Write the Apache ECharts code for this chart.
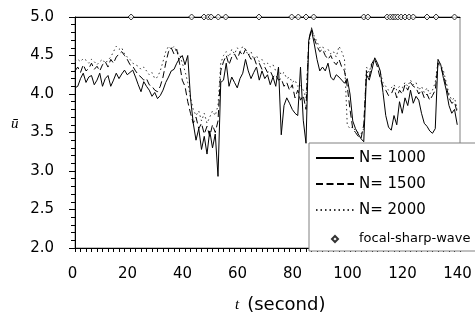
<!DOCTYPE html>
<html>
<head>
<meta charset="utf-8">
<script src="https://cdn.jsdelivr.net/npm/echarts@6/dist/echarts.min.js"></script>
<style>
  html, body { margin: 0; padding: 0; background: #fff; }
  #chart { width: 475px; height: 322px; }
</style>
</head>
<body>
<div id="chart"></div>
<script>
// time stamps (second)
const times = [
  0, 1, 2, 3, 4, 5, 6, 7, 8, 9, 10, 11, 12, 13, 14, 15, 16, 17, 18, 19,
  20, 21, 22, 23, 24, 25, 26, 27, 28, 29, 30, 31, 32, 33, 34, 35, 36, 37, 38, 39,
  40, 41, 42, 43, 44, 45, 46, 47, 48, 49, 50, 51, 52, 53, 54, 55, 56, 57, 58, 59,
  60, 61, 62, 63, 64, 65, 66, 67, 68, 69, 70, 71, 72, 73, 74, 75, 76, 77, 78, 79,
  80, 81, 82, 83, 84, 85, 86, 87, 88, 89, 90, 91, 92, 93, 94, 95, 96, 97, 98, 99,
  100, 101, 102, 103, 104, 105, 106, 107, 108, 109, 110, 111, 112, 113, 114, 115, 116, 117, 118, 119,
  120, 121, 122, 123, 124, 125, 126, 127, 128, 129, 130, 131, 132, 133, 134, 135, 136, 137, 138, 139
]

const n1000 = [
  4.08, 4.10, 4.20, 4.27, 4.15, 4.22, 4.24, 4.12, 4.18, 4.27,
  4.10, 4.20, 4.24, 4.10, 4.18, 4.27, 4.20, 4.26, 4.31, 4.25,
  4.28, 4.31, 4.22, 4.12, 4.03, 4.16, 4.10, 4.05, 3.97, 4.02,
  3.94, 3.98, 4.05, 4.15, 4.22, 4.30, 4.32, 4.40, 4.46, 4.50,
  4.38, 4.50, 3.95, 3.62, 3.40, 3.55, 3.28, 3.45, 3.22, 3.52,
  3.30, 3.48, 2.93, 4.15, 4.18, 4.40, 4.10, 4.22, 4.15, 4.08,
  4.20, 4.27, 4.45, 4.30, 4.20, 4.28, 4.35, 4.18, 4.30, 4.20,
  4.25, 4.12, 4.22, 4.10, 4.35, 3.47, 3.85, 3.95, 3.88, 3.80,
  3.75, 3.72, 4.35, 3.66, 3.36, 4.70, 4.83, 4.65, 4.45, 4.30,
  4.35, 4.30, 4.40, 4.22, 4.18, 4.25, 4.22, 4.18, 4.14, 4.20,
  4.00, 3.65, 3.55, 3.48, 3.42, 3.38, 4.25, 4.18, 4.32, 4.47,
  4.40, 4.30, 4.02, 3.72, 3.57, 3.53, 3.72, 3.60, 3.90, 3.75,
  3.95, 3.85, 4.05, 3.88, 3.97, 3.92, 3.75, 3.62, 3.58, 3.52,
  3.49, 3.55, 4.45, 4.38, 4.20, 4.05, 3.85, 3.75, 3.80, 3.60
]

const n1500 = [
  4.30, 4.35, 4.28, 4.38, 4.30, 4.33, 4.40, 4.32, 4.36, 4.30,
  4.38, 4.42, 4.35, 4.45, 4.40, 4.48, 4.52, 4.55, 4.50, 4.45,
  4.38, 4.36, 4.30, 4.25, 4.22, 4.18, 4.20, 4.12, 4.10, 4.05,
  4.03, 4.10, 4.22, 4.40, 4.55, 4.60, 4.52, 4.58, 4.40, 4.18,
  4.10, 3.90, 3.75, 3.62, 3.70, 3.55, 3.62, 3.48, 3.58, 3.45,
  3.60, 3.50, 3.65, 4.30, 4.42, 4.50, 4.38, 4.48, 4.52, 4.45,
  4.55, 4.50, 4.58, 4.52, 4.45, 4.48, 4.38, 4.40, 4.32, 4.35,
  4.28, 4.30, 4.22, 4.25, 4.18, 4.20, 4.10, 4.15, 4.05, 4.12,
  3.95, 4.05, 3.92, 3.98, 3.80, 4.70, 4.86, 4.72, 4.62, 4.55,
  4.58, 4.50, 4.45, 4.50, 4.42, 4.38, 4.45, 4.35, 4.30, 4.10,
  3.80, 3.55, 3.50, 3.45, 3.42, 3.60, 4.30, 4.22, 4.40, 4.45,
  4.35, 4.20, 4.10, 4.05, 3.98, 4.00, 4.08, 3.95, 4.05, 4.00,
  4.12, 4.05, 4.15, 4.10, 4.08, 4.00, 4.05, 3.95, 4.00, 3.92,
  3.98, 4.05, 4.40, 4.35, 4.25, 4.10, 3.95, 3.88, 3.90, 3.75
]

const n2000 = [
  4.42, 4.45, 4.42, 4.46, 4.44, 4.40, 4.45, 4.42, 4.38, 4.42,
  4.45, 4.40, 4.44, 4.48, 4.55, 4.62, 4.58, 4.60, 4.52, 4.48,
  4.45, 4.40, 4.38, 4.36, 4.32, 4.35, 4.30, 4.25, 4.28, 4.20,
  4.22, 4.30, 4.42, 4.55, 4.62, 4.58, 4.62, 4.55, 4.52, 4.40,
  4.30, 4.15, 3.95, 3.80, 3.72, 3.78, 3.65, 3.75, 3.62, 3.70,
  3.78, 3.72, 3.85, 4.40, 4.50, 4.55, 4.48, 4.58, 4.52, 4.60,
  4.55, 4.62, 4.58, 4.50, 4.55, 4.45, 4.50, 4.42, 4.45, 4.38,
  4.40, 4.35, 4.38, 4.30, 4.32, 4.25, 4.28, 4.20, 4.22, 4.15,
  4.18, 4.10, 4.12, 4.05, 3.95, 4.65, 4.85, 4.75, 4.68, 4.60,
  4.62, 4.55, 4.58, 4.52, 4.55, 4.48, 4.62, 4.55, 4.45, 3.60,
  3.55, 3.58, 3.52, 3.50, 3.48, 3.55, 4.35, 4.28, 4.42, 4.45,
  4.40, 4.28, 4.15, 4.10, 4.05, 4.08, 4.12, 4.05, 4.10, 4.08,
  4.15, 4.10, 4.18, 4.12, 4.15, 4.05, 4.10, 4.02, 4.08, 4.00,
  4.05, 4.15, 4.42, 4.38, 4.30, 4.15, 4.00, 3.92, 3.95, 3.80
]

// focal sharp wave events, all drawn on the 5.0 line
const sharpWaveTimes = [
  20.4, 42.4, 46.9, 48.5, 49.5, 52.1, 54.8, 66.9, 78.8, 81.2, 84.0, 86.8,
  105.0, 106.5, 113.5, 114.7, 115.7, 116.5, 117.4, 118.6, 120.0, 121.5, 123.0,
  128.0, 131.3, 138.0
]
const sharpWaveLevel = 5.0

const seriesNames = ['N= 1000', 'N= 1500', 'N= 2000', 'focal-sharp-wave']
const xTicks = [0, 20, 40, 60, 80, 100, 120, 140]
const yTicks = [2.0, 2.5, 3.0, 3.5, 4.0, 4.5, 5.0]

const pair = vals => times.map((t, i) => [t, vals[i]])
const SANS = '"DejaVu Sans", sans-serif'
const SERIF = '"Liberation Serif", "DejaVu Serif", serif'

// small diamond centred in the 38x6 legend slot (moves fix the box so it is not stretched)
const legendDiamond = 'path://M0,0M38,6M19,0L22,3L19,6L16,3Z'

const chart = echarts.init(document.getElementById('chart'), null, { renderer: 'canvas' })

chart.setOption({
  animation: false,
  backgroundColor: '#fff',
  grid: {
    left: 75, right: 15, top: 17, bottom: 74,
    show: true, borderColor: '#808080', borderWidth: 1,
  },
  xAxis: [
    {
      type: 'value',
      min: xTicks[0], max: xTicks[xTicks.length - 1], interval: 20,
      axisLine: { onZero: false, lineStyle: { color: '#000', width: 1 } },
      axisTick: { show: true, length: 4, lineStyle: { color: '#000' } },
      minorTick: { show: true, splitNumber: 10, length: 4, lineStyle: { color: '#000' } },
      axisLabel: { margin: 19, fontSize: 15, fontFamily: SANS, color: '#000', padding: [0, 5, 0, 0] },
      splitLine: { show: false },
    },
    {
      type: 'value', position: 'top',
      min: xTicks[0], max: xTicks[xTicks.length - 1],
      axisLine: { show: true, lineStyle: { color: '#000', width: 1 } },
      axisTick: { show: false }, axisLabel: { show: false }, splitLine: { show: false },
    },
  ],
  yAxis: {
    type: 'value',
    min: yTicks[0], max: yTicks[yTicks.length - 1], interval: 0.5,
    axisLine: { show: true, onZero: false, lineStyle: { color: '#000', width: 1 } },
    axisTick: { show: true, length: 6, lineStyle: { color: '#000' } },
    minorTick: { show: true, splitNumber: 5, length: 4, lineStyle: { color: '#000' } },
    axisLabel: { margin: 21, fontSize: 15, fontFamily: SANS, color: '#000', formatter: v => v.toFixed(1) },
    splitLine: { show: false },
  },
  legend: {
    orient: 'vertical',
    left: 309, top: 143,
    padding: [6, 40, 0, 6],
    itemWidth: 38, itemHeight: 6, itemGap: 8,
    backgroundColor: '#fff',
    borderColor: '#808080', borderWidth: 1,
    data: [
      { name: seriesNames[0], itemStyle: { opacity: 0 } },
      { name: seriesNames[1], itemStyle: { opacity: 0 } },
      { name: seriesNames[2], itemStyle: { opacity: 0 } },
      { name: seriesNames[3], icon: legendDiamond },
    ],
    textStyle: {
      fontFamily: SANS, fontSize: 15, color: '#000', lineHeight: 18,
      rich: { s: { fontFamily: SANS, fontSize: 13, lineHeight: 24, color: '#000' } },
    },
    formatter: name => name === 'focal-sharp-wave' ? '{s|' + name + '}' : name,
    z: 10,
  },
  graphic: [
    {
      type: 'text', left: 11, top: 117, z: 10,
      style: { text: 'ū', font: 'italic 15px ' + SERIF, fill: '#000' },
    },
    {
      type: 'text', left: 235, top: 296, z: 10,
      style: {
        text: '{i|t}{n|(second)}',
        rich: {
          i: { font: 'italic 15px ' + SERIF, fill: '#000' },
          n: { font: '18px ' + SANS, fill: '#000', padding: [0, 0, 0, 8] },
        },
      },
    },
  ],
  series: [
    {
      name: seriesNames[0], type: 'line', data: pair(n1000),
      symbol: 'none', z: 5,
      lineStyle: { color: '#000', width: 1, type: 'solid' },
      itemStyle: { color: '#000' },
    },
    {
      name: seriesNames[1], type: 'line', data: pair(n1500),
      symbol: 'none', z: 4,
      lineStyle: { color: '#000', width: 1, type: [7, 3.5] },
      itemStyle: { color: '#000' },
    },
    {
      name: seriesNames[2], type: 'line', data: pair(n2000),
      symbol: 'none', z: 3,
      lineStyle: { color: '#333', width: 1, type: [1.5, 3] },
      itemStyle: { color: '#333' },
    },
    {
      name: seriesNames[3], type: 'scatter',
      data: sharpWaveTimes.map(t => [t, sharpWaveLevel]),
      symbol: 'diamond', symbolSize: 6, clip: false, z: 6,
      itemStyle: { color: '#fff', borderColor: '#000', borderWidth: 1 },
    },
  ],
})
</script>
</body>
</html>
